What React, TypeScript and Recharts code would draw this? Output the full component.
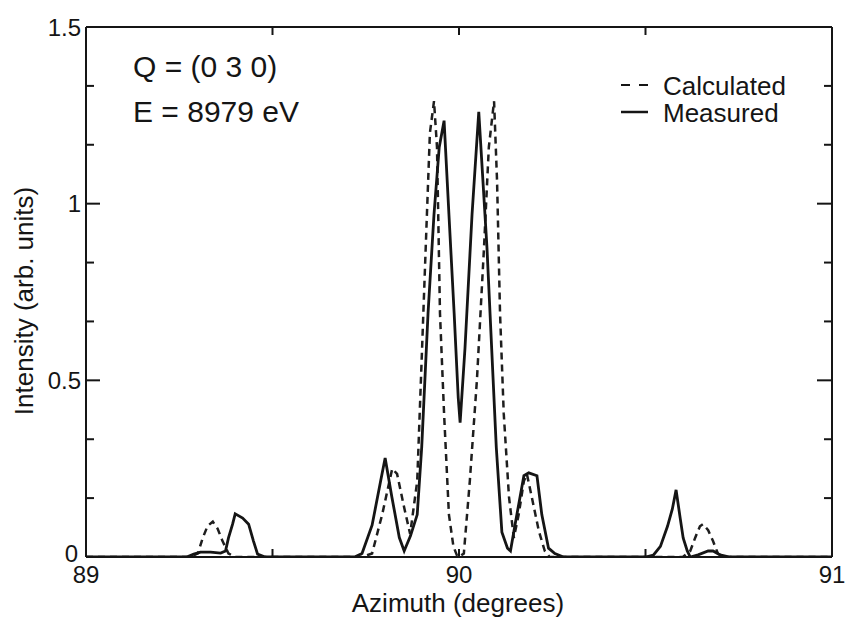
import React from 'react';
import { LineChart, Line, XAxis, YAxis, Customized } from 'recharts';

// Calculated (dashed) curve
const calcX = [
  89.0, 89.28, 89.3, 89.313, 89.326, 89.34, 89.353, 89.366, 89.382, 89.4,
  89.74, 89.767, 89.794, 89.821, 89.834, 89.853, 89.869, 89.888, 89.901, 89.914,
  89.922, 89.933, 89.941, 89.949, 89.96, 89.973, 89.985, 89.995, 90.0, 90.013,
  90.029, 90.048, 90.067, 90.08, 90.094, 90.102, 90.11, 90.12, 90.134, 90.147,
  90.16, 90.174, 90.182, 90.195, 90.214, 90.23, 90.243, 90.6, 90.62, 90.633,
  90.646, 90.654, 90.668, 90.681, 90.694, 90.71, 91.0,
];
const calcY = [
  0, 0, 0.01, 0.054, 0.088, 0.1, 0.08, 0.045, 0.01, 0,
  0, 0.01, 0.12, 0.25, 0.235, 0.14, 0.065, 0.215, 0.59, 0.97,
  1.2, 1.29, 1.16, 0.69, 0.405, 0.12, 0.03, 0.003, 0, 0.01,
  0.215, 0.5, 0.875, 1.16, 1.29, 1.065, 0.69, 0.405, 0.17, 0.054,
  0.12, 0.215, 0.235, 0.17, 0.074, 0.017, 0, 0, 0.017, 0.054,
  0.087, 0.093, 0.076, 0.045, 0.01, 0, 0,
];

// Measured (solid) curve
const measX = [
  89.0, 89.27, 89.289, 89.307, 89.334, 89.361, 89.374, 89.382, 89.393, 89.4,
  89.42, 89.436, 89.449, 89.46, 89.48, 89.72, 89.74, 89.767, 89.789, 89.802,
  89.82, 89.84, 89.853, 89.87, 89.888, 89.9, 89.917, 89.933, 89.947, 89.96,
  89.973, 89.987, 89.998, 90.003, 90.016, 90.035, 90.053, 90.075, 90.1, 90.115,
  90.13, 90.138, 90.15, 90.174, 90.187, 90.209, 90.222, 90.24, 90.257, 90.28,
  90.5, 90.521, 90.54, 90.559, 90.572, 90.582, 90.593, 90.601, 90.612, 90.62,
  90.641, 90.668, 90.681, 90.7, 90.726, 91.0,
];
const measY = [
  0, 0, 0.008, 0.014, 0.014, 0.011, 0.017, 0.054, 0.093, 0.122,
  0.11, 0.093, 0.045, 0.008, 0, 0, 0.01, 0.09, 0.21, 0.28,
  0.17, 0.055, 0.017, 0.06, 0.12, 0.31, 0.69, 0.97, 1.16, 1.235,
  0.97, 0.69, 0.45, 0.38, 0.59, 0.97, 1.26, 0.875, 0.31, 0.07,
  0.025, 0.017, 0.09, 0.23, 0.238, 0.23, 0.12, 0.025, 0.01, 0,
  0, 0.005, 0.03, 0.087, 0.136, 0.19, 0.11, 0.054, 0.017, 0,
  0.006, 0.017, 0.017, 0.006, 0, 0,
];

const xTicks = [89, 89.5, 90, 90.5, 91];
const xTickLabels = ['89', '', '90', '', '91'];
const yTicks = [0, 0.1667, 0.3333, 0.5, 0.6667, 0.8333, 1, 1.1667, 1.3333, 1.5];
const yTickLabels = ['0', '', '', '0.5', '', '', '1', '', '', '1.5'];

const seriesNames = ['Calculated', 'Measured'];
const annotations = ['Q = (0 3 0)', 'E = 8979 eV'];
const xTitle = 'Azimuth (degrees)';
const yTitle = 'Intensity (arb. units)';

const calcData = calcX.map((x, i) => ({ x, y: calcY[i] }));
const measData = measX.map((x, i) => ({ x, y: measY[i] }));

const INK = '#151515';
const FONT = '"Liberation Sans", Arial, Helvetica, sans-serif';

const labelFor = (ticks: number[], labels: string[], v: number) => {
  const i = ticks.findIndex((t) => Math.abs(t - v) < 1e-6);
  return i >= 0 ? labels[i] : '';
};

const BottomTick = (props: any) => {
  const { x, y, payload } = props;
  const label = labelFor(xTicks, xTickLabels, payload.value);
  return (
    <g>
      <line x1={x} y1={y} x2={x} y2={y - 8} stroke={INK} strokeWidth={2} />
      {label && (
        <text x={x} y={y + 26} textAnchor="middle" fontSize={24} fontFamily={FONT} fill={INK}>
          {label}
        </text>
      )}
    </g>
  );
};

const TopTick = (props: any) => {
  const { x, y } = props;
  return <line x1={x} y1={y} x2={x} y2={y + 8} stroke={INK} strokeWidth={2} />;
};

const LeftTick = (props: any) => {
  const { x, y, payload } = props;
  const label = labelFor(yTicks, yTickLabels, payload.value);
  const len = label ? 14 : 8;
  const isZero = Math.abs(payload.value) < 1e-6;
  return (
    <g>
      <line x1={x} y1={y} x2={x + len} y2={y} stroke={INK} strokeWidth={2} />
      {label && (
        <text
          x={x - (isZero ? 8 : 5)}
          y={y + (isZero ? 5 : 8.5)}
          textAnchor="end"
          fontSize={24}
          fontFamily={FONT}
          fill={INK}
        >
          {label}
        </text>
      )}
    </g>
  );
};

const RightTick = (props: any) => {
  const { x, y, payload } = props;
  const label = labelFor(yTicks, yTickLabels, payload.value);
  const len = label ? 15 : 8;
  return <line x1={x} y1={y} x2={x - len} y2={y} stroke={INK} strokeWidth={2} />;
};

const Decorations = () => (
  <g fontFamily={FONT} fill={INK}>
    <text x={133} y={77} fontSize={30}>{annotations[0]}</text>
    <text x={133} y={122} fontSize={30}>{annotations[1]}</text>
    <line x1={621} y1={85} x2={648} y2={85} stroke={INK} strokeWidth={2.2} strokeDasharray="9 9" />
    <text x={663} y={95} fontSize={26}>{seriesNames[0]}</text>
    <line x1={621} y1={112} x2={648} y2={112} stroke={INK} strokeWidth={2.5} />
    <text x={663} y={122} fontSize={26}>{seriesNames[1]}</text>
    <text x={458} y={612} fontSize={26} textAnchor="middle">{xTitle}</text>
    <text x={0} y={0} fontSize={26} textAnchor="middle" transform="translate(33 301) rotate(-90)">
      {yTitle}
    </text>
  </g>
);

export default function App() {
  return (
    <div style={{ position: 'absolute', left: 0, top: 0, width: 846, height: 619, background: '#fff' }}>
      <LineChart width={846} height={619} margin={{ top: 26, right: 13, bottom: 61, left: 85 }}>
        <XAxis
          xAxisId="b"
          type="number"
          dataKey="x"
          domain={[89, 91]}
          ticks={xTicks}
          interval={0}
          height={1}
          tickSize={0}
          tickMargin={0}
          tickLine={false}
          tick={<BottomTick />}
          axisLine={{ stroke: INK, strokeWidth: 2 }}
          allowDataOverflow
        />
        <XAxis
          xAxisId="t"
          orientation="top"
          type="number"
          dataKey="x"
          domain={[89, 91]}
          ticks={xTicks}
          interval={0}
          height={1}
          tickSize={0}
          tickMargin={0}
          tickLine={false}
          tick={<TopTick />}
          axisLine={{ stroke: INK, strokeWidth: 2 }}
          allowDataOverflow
        />
        <YAxis
          yAxisId="l"
          type="number"
          domain={[0, 1.5]}
          ticks={yTicks}
          interval={0}
          width={1}
          tickSize={0}
          tickMargin={0}
          tickLine={false}
          tick={<LeftTick />}
          axisLine={{ stroke: INK, strokeWidth: 2 }}
          allowDataOverflow
        />
        <YAxis
          yAxisId="r"
          orientation="right"
          type="number"
          domain={[0, 1.5]}
          ticks={yTicks}
          interval={0}
          width={1}
          tickSize={0}
          tickMargin={0}
          tickLine={false}
          tick={<RightTick />}
          axisLine={{ stroke: INK, strokeWidth: 2 }}
          allowDataOverflow
        />
        <Line
          xAxisId="b"
          yAxisId="l"
          data={calcData}
          dataKey="y"
          name={seriesNames[0]}
          type="linear"
          stroke="#1e1e1e"
          strokeWidth={2.5}
          strokeDasharray="7 5"
          dot={false}
          activeDot={false}
          isAnimationActive={false}
        />
        <Line
          xAxisId="b"
          yAxisId="l"
          data={measData}
          dataKey="y"
          name={seriesNames[1]}
          type="linear"
          stroke={INK}
          strokeWidth={2.8}
          dot={false}
          activeDot={false}
          isAnimationActive={false}
        />
        <Customized component={Decorations} />
      </LineChart>
    </div>
  );
}
